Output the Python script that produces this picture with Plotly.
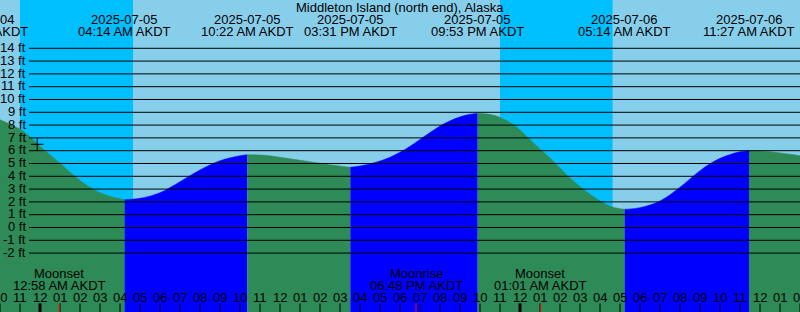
import plotly.graph_objects as go

# ---------------- data (hours from midnight 2025-07-05 AKDT) ----------------
TITLE = "Middleton Island (north end), Alaska"

TIDE_HOURS = [-2.0, -1.0, -0.5, 0.0, 1.0, 2.0, 3.0, 4.0, 4.233, 5.0, 6.0, 7.0, 8.0, 9.0,
              10.0, 10.367, 11.25, 12.25, 13.25, 14.25, 15.25, 15.517, 16.25, 17.25,
              18.25, 19.25, 20.25, 21.25, 21.883, 22.75, 23.75, 24.5, 25.5, 26.5, 27.5,
              28.5, 29.233, 30.0, 31.0, 32.0, 33.0, 34.0, 35.0, 35.45, 36.5, 38.0]
TIDE_FT = [8.42, 7.68, 7.08, 6.35, 5.02, 3.68, 2.72, 2.24, 2.17, 2.28, 2.72, 3.58, 4.5, 5.22,
           5.61, 5.69, 5.64, 5.43, 5.2, 4.96, 4.75, 4.7, 4.88, 5.33,
           6.1, 7.15, 8.14, 8.76, 8.92, 8.74, 7.95, 6.86, 5.42, 3.87, 2.6,
           1.66, 1.42, 1.55, 2.07, 3.14, 4.44, 5.4, 5.92, 6.0, 5.92, 5.61]

EXTREME_HOURS = [-2.95, 4.233, 10.367, 15.517, 21.883, 29.233, 35.45]
EXTREME_DATES = ["2025-07-04", "2025-07-05", "2025-07-05", "2025-07-05", "2025-07-05",
                 "2025-07-06", "2025-07-06"]
EXTREME_TIMES = ["09:03 PM AKDT", "04:14 AM AKDT", "10:22 AM AKDT", "03:31 PM AKDT",
                 "09:53 PM AKDT", "05:14 AM AKDT", "11:27 AM AKDT"]

NIGHT_START = [-1.0, 23.0]     # sunset
NIGHT_END = [4.65, 28.63]      # sunrise

MOON_HOURS = [0.967, 18.8, 25.017]
MOON_EVENTS = ["Moonset", "Moonrise", "Moonset"]
MOON_TIMES = ["12:58 AM AKDT", "06:48 PM AKDT", "01:01 AM AKDT"]

MIDNIGHTS = [0, 24]

HOUR_TICKS = list(range(-2, 39))
HOUR_LABELS = ["10", "11", "12", "01", "02", "03", "04", "05", "06", "07", "08", "09",
               "10", "11", "12", "01", "02", "03", "04", "05", "06", "07", "08", "09",
               "10", "11", "12", "01", "02", "03", "04", "05", "06", "07", "08", "09",
               "10", "11", "12", "01", "02"]

LEVEL_TICKS = list(range(-2, 15))
LEVEL_LABELS = [f"{v} ft" for v in LEVEL_TICKS]

MARK_HOUR = [-0.14]
MARK_FT = [6.5]

# ---------------- style ----------------
X_RANGE = [-2, 38]
Y_RANGE = [-6.602, 17.773]
DAY = "#87CEEB"
NIGHT = "#00BFFF"
RISE = "#0000FF"
FALL = "#2E8B57"
FONT = "Liberation Sans"
FS = 13

fig = go.Figure()

# tide segments, coloured by rising / falling
bounds = [X_RANGE[0]] + [h for h in EXTREME_HOURS if X_RANGE[0] < h < X_RANGE[1]] + [X_RANGE[1]]
for a, b in zip(bounds[:-1], bounds[1:]):
    pts = [(t, v) for t, v in zip(TIDE_HOURS, TIDE_FT) if a - 1e-9 <= t <= b + 1e-9]
    xs = [p[0] for p in pts]
    ys = [p[1] for p in pts]
    col = RISE if ys[-1] > ys[0] else FALL
    fig.add_trace(go.Scatter(x=xs, y=[Y_RANGE[0]] * len(xs), mode="lines",
                             line=dict(width=0, color=col), showlegend=False, hoverinfo="skip"))
    fig.add_trace(go.Scatter(x=xs, y=ys, mode="lines", fill="tonexty", fillcolor=col,
                             line=dict(width=0.5, color=col, shape="spline", smoothing=1),
                             showlegend=False, hoverinfo="skip"))

# mark
fig.add_trace(go.Scatter(x=MARK_HOUR, y=MARK_FT, mode="markers",
                         marker=dict(symbol="cross-thin", size=9,
                                     line=dict(width=1, color="black")),
                         showlegend=False, hoverinfo="skip"))

# invisible trace so that overlay axis y2 exists
fig.add_trace(go.Scatter(x=[X_RANGE[0]], y=[0], yaxis="y2", mode="markers",
                         marker=dict(size=0, opacity=0), showlegend=False, hoverinfo="skip"))

txt = dict(family=FONT, size=FS, color="black")


def xpos(h):
    """x reference for an annotation: data axis when in range, else paper."""
    if X_RANGE[0] <= h <= X_RANGE[1]:
        return "x", h
    return "paper", (h - X_RANGE[0]) / (X_RANGE[1] - X_RANGE[0])


annotations = [dict(text=TITLE, xref="paper", yref="paper", x=0.5, y=1 - 7.7 / 312,
                    xanchor="center", yanchor="middle", showarrow=False, font=txt)]
for h, d, t in zip(EXTREME_HOURS, EXTREME_DATES, EXTREME_TIMES):
    ref, xv = xpos(h)
    annotations.append(dict(text=d, xref=ref, yref="y2", x=xv, y=19.8, xanchor="center",
                            yanchor="middle", showarrow=False, font=txt))
    annotations.append(dict(text=t, xref=ref, yref="y2", x=xv, y=31.6, xanchor="center",
                            yanchor="middle", showarrow=False, font=txt))
for h, ev, t in zip(MOON_HOURS, MOON_EVENTS, MOON_TIMES):
    annotations.append(dict(text=ev, xref="x", yref="y2", x=h, y=273.2, xanchor="center",
                            yanchor="middle", showarrow=False, font=txt))
    annotations.append(dict(text=t, xref="x", yref="y2", x=h, y=285.2, xanchor="center",
                            yanchor="middle", showarrow=False, font=txt))
for h, lab in zip(HOUR_TICKS, HOUR_LABELS):
    annotations.append(dict(text=lab, xref="x", yref="y2", x=h, y=297.6, xanchor="center",
                            yanchor="middle", showarrow=False, font=txt))
for v, lab in zip(LEVEL_TICKS, LEVEL_LABELS):
    annotations.append(dict(text=lab, xref="paper", yref="y", x=27.5 / 800, y=v + 0.06,
                            xanchor="right", yanchor="middle", showarrow=False, font=txt))

shapes = []
for s, e in zip(NIGHT_START, NIGHT_END):
    shapes.append(dict(type="rect", xref="x", yref="paper", x0=s, x1=e, y0=0, y1=1,
                       fillcolor=NIGHT, line=dict(width=0), layer="below"))
for v in LEVEL_TICKS:
    shapes.append(dict(type="line", xref="paper", yref="y", x0=29 / 800, x1=1, y0=v, y1=v,
                       line=dict(color="black", width=1), layer="above"))
for h in HOUR_TICKS:
    shapes.append(dict(type="line", xref="x", yref="y2", x0=h, x1=h, y0=303.5, y1=312,
                       line=dict(color="black", width=1), layer="above"))
for h in MIDNIGHTS:
    shapes.append(dict(type="line", xref="x", yref="y2", x0=h, x1=h, y0=303.5, y1=312,
                       line=dict(color="black", width=3), layer="above"))
for h in MOON_HOURS:
    shapes.append(dict(type="line", xref="x", yref="y2", x0=h, x1=h, y0=303.5, y1=312,
                       line=dict(color="red", width=1), layer="above"))

fig.update_layout(
    width=800, height=312, margin=dict(l=0, r=0, t=0, b=0),
    paper_bgcolor=DAY, plot_bgcolor=DAY,
    xaxis=dict(range=X_RANGE, visible=False, fixedrange=True),
    yaxis=dict(range=Y_RANGE, visible=False, fixedrange=True),
    yaxis2=dict(range=[312, 0], overlaying="y", visible=False, fixedrange=True),
    shapes=shapes, annotations=annotations, showlegend=False,
)

fig.write_html("out.html")
